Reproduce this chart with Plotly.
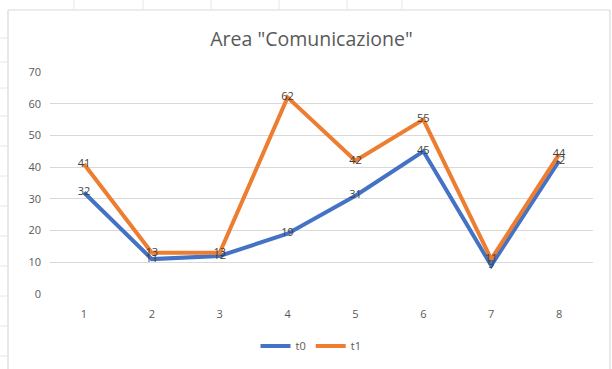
import plotly.graph_objects as go

# Survey rounds and scores for the "Comunicazione" area
categories = [1, 2, 3, 4, 5, 6, 7, 8]
t0_values = [32, 11, 12, 19, 31, 45, 9, 42]
t1_values = [41, 13, 13, 62, 42, 55, 11, 44]
y_ticks = [0, 10, 20, 30, 40, 50, 60, 70]

BLUE = "#4472C4"
ORANGE = "#ED7D31"
GREY = "#595959"
FONT = "'Open Sans', sans-serif"

fig = go.Figure()
for name, vals, col in [("t0", t0_values, BLUE), ("t1", t1_values, ORANGE)]:
    fig.add_trace(go.Scatter(
        x=categories, y=vals, name=name, mode="lines+text",
        line=dict(color=col, width=4),
        text=[str(v) for v in vals], textposition="middle center",
        textfont=dict(color="#404040", size=11, family=FONT),
        cliponaxis=False,
    ))

# Plot-area geometry in pixels
L, T = 50, 72
PW, PH = 543, 222
def px_x(p):
    return (p - L) / PW
def px_y(p):
    return (T + PH - p) / PH

# Outer chart frame (left, top and right edges)
frame = dict(color="#D9D9D9", width=1.2)
shapes = [
    dict(type="line", xref="paper", yref="paper", x0=px_x(8), x1=px_x(610),
         y0=px_y(10), y1=px_y(10), line=frame),
    dict(type="line", xref="paper", yref="paper", x0=px_x(8), x1=px_x(8),
         y0=px_y(10), y1=px_y(369), line=frame),
    dict(type="line", xref="paper", yref="paper", x0=px_x(610), x1=px_x(610),
         y0=px_y(10), y1=px_y(369), line=frame),
]
# faint worksheet cell lines around the frame
for xc in [74, 143, 211, 279, 347, 402]:
    shapes.append(dict(type="line", xref="paper", yref="paper", x0=px_x(xc), x1=px_x(xc),
                       y0=px_y(0), y1=px_y(9), line=dict(color="#E6E6E6", width=1)))
for yc in [38, 62, 88, 116, 146, 176, 206, 236, 266, 296, 326, 356]:
    shapes.append(dict(type="line", xref="paper", yref="paper", x0=px_x(0), x1=px_x(7),
                       y0=px_y(yc), y1=px_y(yc), line=dict(color="#E6E6E6", width=1)))

fig.update_layout(
    width=612, height=369,
    margin=dict(l=L, r=612 - L - PW, t=T, b=369 - T - PH, autoexpand=False),
    paper_bgcolor="white", plot_bgcolor="white",
    title=dict(text='Area "Comunicazione"', x=px_x(311.5), xref="paper", xanchor="center",
               y=1 - 39 / 369, yanchor="middle",
               font=dict(size=19.5, color=GREY, family=FONT)),
    xaxis=dict(range=[0.5, 8.5], tickvals=categories, showgrid=False,
               zeroline=False, showline=False, ticks="", ticklabelstandoff=12,
               tickfont=dict(size=11, color=GREY, family=FONT)),
    yaxis=dict(range=[0, 70], tickvals=y_ticks, showgrid=True,
               gridcolor="#D9D9D9", gridwidth=1, zeroline=False,
               showline=False, ticks="", ticklabelstandoff=8,
               tickfont=dict(size=11, color=GREY, family=FONT)),
    legend=dict(orientation="h", x=px_x(311), xanchor="center",
                y=px_y(346), yanchor="middle",
                font=dict(size=11, color=GREY, family=FONT),
                itemwidth=30, tracegroupgap=0),
    shapes=shapes,
)

fig.write_html("out.html")
